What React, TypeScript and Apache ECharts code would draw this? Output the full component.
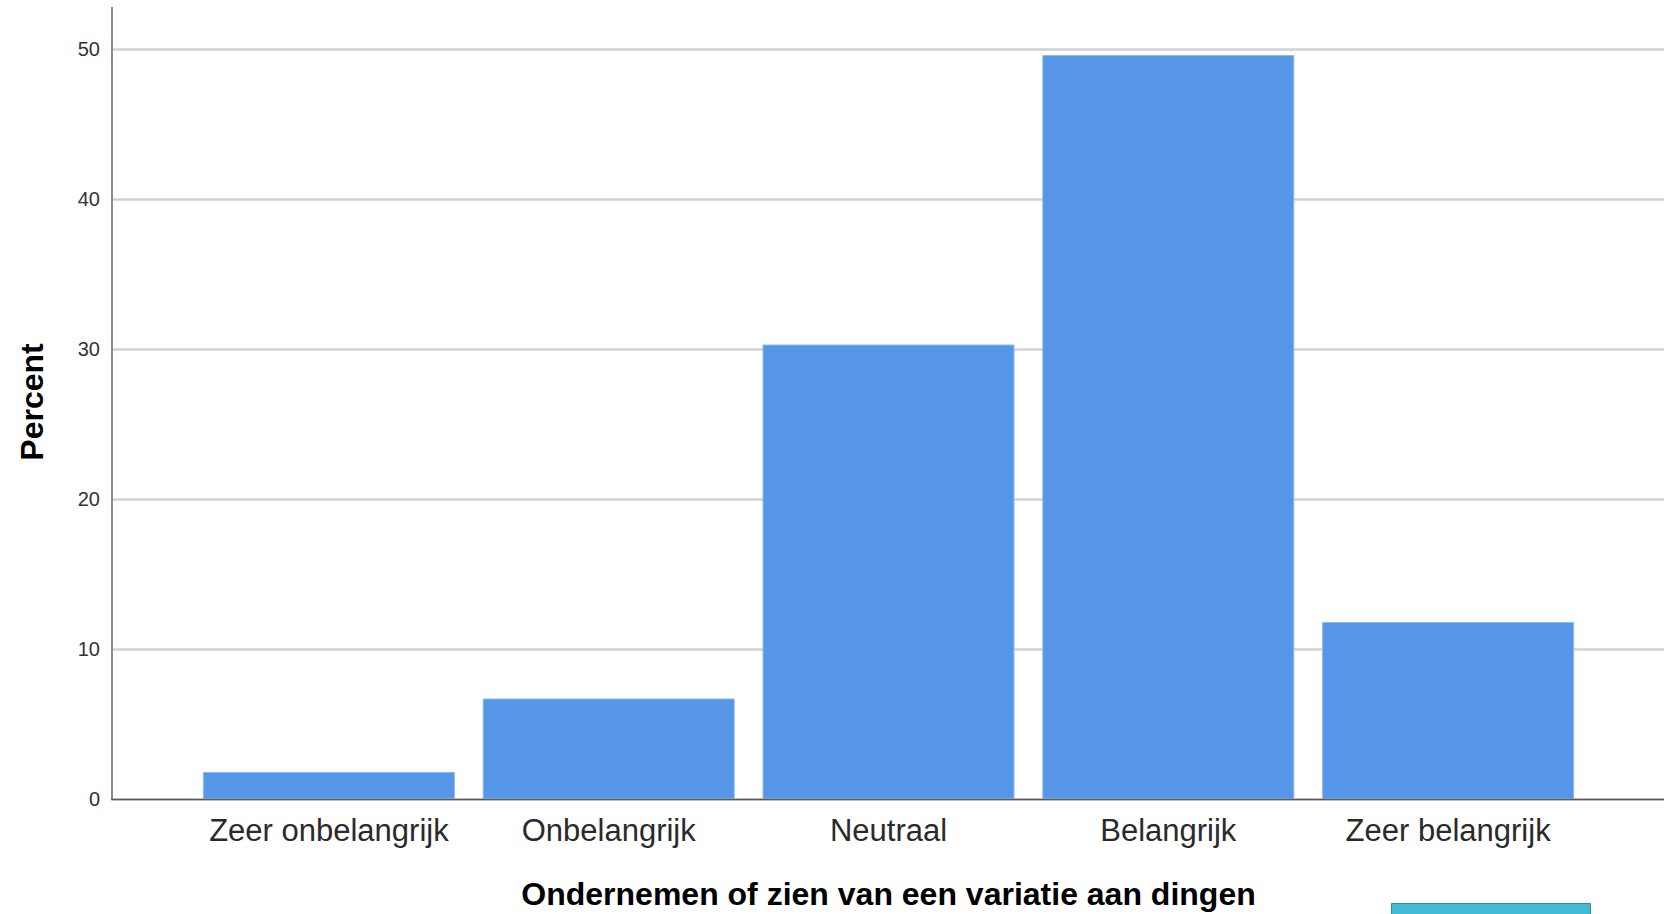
import React, { useEffect, useRef } from "react";
import * as echarts from "echarts";

const categories = ["Zeer onbelangrijk", "Onbelangrijk", "Neutraal", "Belangrijk", "Zeer belangrijk"];
const percentValues = [1.8, 6.7, 30.3, 49.6, 11.8];
const yTicks = [0, 10, 20, 30, 40, 50];
const xTitle = "Ondernemen of zien van een variatie aan dingen";
const yTitle = "Percent";

const FONT = '"Liberation Sans", Arial, Helvetica, sans-serif';

export default function App() {
  const ref = useRef<HTMLDivElement>(null);
  useEffect(() => {
    document.body.style.margin = "0";
    const chart = echarts.init(ref.current!, null, { renderer: "svg" });
    const yMin = yTicks[0];
    const yMax = yTicks[yTicks.length - 1];
    const step = yTicks[1] - yTicks[0];
    chart.setOption({
      animation: false,
      backgroundColor: "#ffffff",
      grid: [
        { left: 112, right: 14, top: 49, bottom: 115 },
        { left: 189, right: 90, top: 49, bottom: 115 },
      ],
      xAxis: [
        { gridIndex: 0, type: "value", min: 0, max: 1, show: false },
        {
          gridIndex: 1,
          type: "category",
          data: categories,
          axisLine: { show: false },
          axisTick: { show: false },
          axisLabel: {
            margin: 16,
            fontFamily: FONT,
            fontSize: 31,
            color: "#2a2a2a",
            interval: 0,
          },
        },
      ],
      yAxis: [
        {
          gridIndex: 0,
          type: "value",
          min: yMin,
          max: yMax,
          interval: step,
          axisLine: { show: false },
          axisTick: { show: false },
          axisLabel: { margin: 12, fontFamily: FONT, fontSize: 20, color: "#333333" },
          splitLine: { show: true, lineStyle: { color: "#d2d2d2", width: 2.5 } },
        },
        { gridIndex: 1, type: "value", min: yMin, max: yMax, show: false },
      ],
      series: [
        {
          type: "bar",
          xAxisIndex: 1,
          yAxisIndex: 1,
          data: percentValues,
          barWidth: 252,
          itemStyle: { color: "#5596e6", borderColor: "#8cbaf0", borderWidth: 1 },
        },
      ],
      graphic: [
        {
          type: "line",
          shape: { x1: 112, y1: 7, x2: 112, y2: 800 },
          style: { stroke: "#8a8a8a", lineWidth: 2 },
          z: 10,
        },
        {
          type: "line",
          shape: { x1: 111, y1: 799.5, x2: 1664, y2: 799.5 },
          style: { stroke: "#5a5a5a", lineWidth: 1.5 },
          z: 10,
        },
        {
          type: "text",
          x: 888.5,
          y: 894,
          style: {
            text: xTitle,
            font: `bold 32px ${FONT}`,
            fill: "#000000",
            align: "center",
            verticalAlign: "middle",
          },
        },
        {
          type: "text",
          x: 32,
          y: 402,
          rotation: Math.PI / 2,
          style: {
            text: yTitle,
            font: `bold 32px ${FONT}`,
            fill: "#000000",
            align: "center",
            verticalAlign: "middle",
          },
        },
        {
          type: "rect",
          shape: { x: 1391.5, y: 903.5, width: 199, height: 20 },
          style: { fill: "#41bbd4", stroke: "#2f8e9e", lineWidth: 1 },
        },
      ],
    });
    return () => chart.dispose();
  }, []);
  return (
    <div
      ref={ref}
      style={{ position: "absolute", left: 0, top: 0, width: 1678, height: 914 }}
    />
  );
}
